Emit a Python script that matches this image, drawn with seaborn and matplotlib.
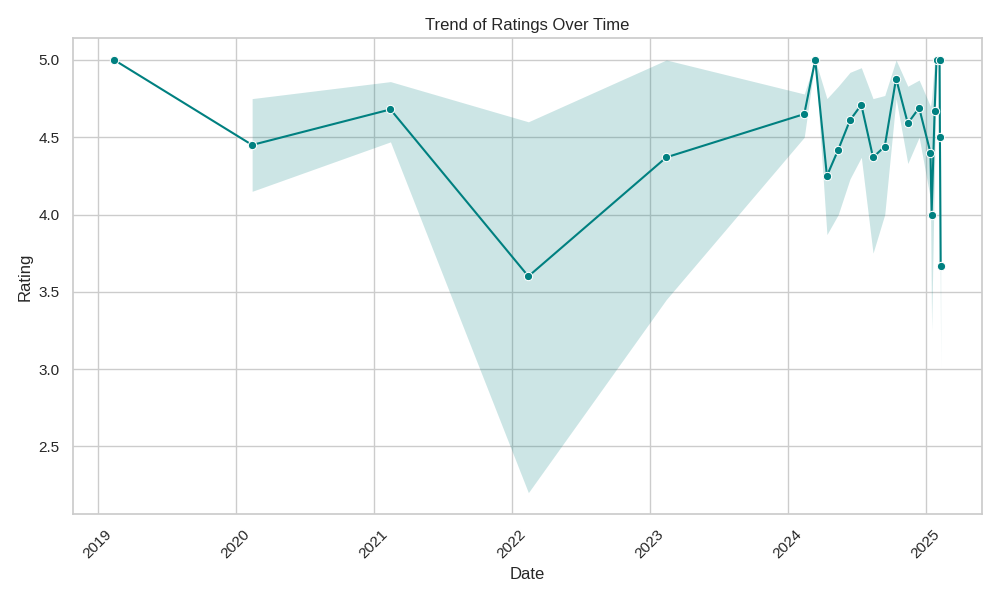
import numpy as np
import pandas as pd
import matplotlib.pyplot as plt
import seaborn as sns

# values (mean rating and confidence band)
dates = ["2019-02-14", "2020-02-14", "2021-02-14", "2022-02-14", "2023-02-14",
         "2024-02-14", "2024-03-14", "2024-04-14", "2024-05-14", "2024-06-14",
         "2024-07-14", "2024-08-14", "2024-09-14", "2024-10-14", "2024-11-14",
         "2024-12-14", "2025-01-13", "2025-01-16", "2025-01-24", "2025-01-29",
         "2025-02-06", "2025-02-07", "2025-02-09"]
rating = [5.0, 4.45, 4.68, 3.6, 4.37,
          4.65, 5.0, 4.25, 4.42, 4.61,
          4.71, 4.37, 4.44, 4.88, 4.59,
          4.69, 4.4, 4.0, 4.67, 5.0,
          5.0, 4.5, 3.67]
# first point is a single review: no band there
lower = [np.nan, 4.15, 4.47, 2.2, 3.45,
         4.5, 5.0, 3.87, 4.0, 4.23,
         4.37, 3.75, 4.0, 4.75, 4.33,
         4.5, 4.1, 3.25, 4.33, 5.0,
         5.0, 4.0, 3.0]
upper = [np.nan, 4.75, 4.86, 4.6, 5.0,
         4.78, 5.0, 4.75, 4.83, 4.92,
         4.95, 4.75, 4.77, 5.0, 4.83,
         4.87, 4.7, 4.75, 5.0, 5.0,
         5.0, 5.0, 4.33]

df = pd.DataFrame({"Date": pd.to_datetime(dates), "Rating": rating,
                   "lo": lower, "hi": upper})

sns.set_theme(style="whitegrid", font="Liberation Sans")
plt.figure(figsize=(10, 6))
band = df.dropna()
plt.fill_between(band["Date"], band["lo"], band["hi"], color="teal", alpha=0.2, linewidth=0)
sns.lineplot(data=df, x="Date", y="Rating", marker="o", color="teal")
plt.title("Trend of Ratings Over Time")
plt.xlabel("Date")
plt.ylabel("Rating")
plt.xticks(rotation=45)
plt.tight_layout()
plt.savefig("out.png", dpi=100)
